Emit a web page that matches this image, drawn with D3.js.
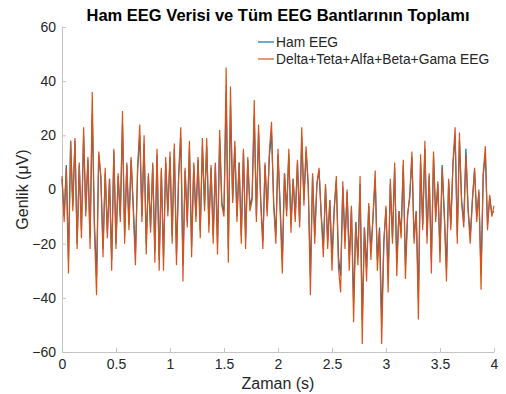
<!DOCTYPE html>
<head>
<style type="text/css">
    body {
      font-family: "Liberation Sans", Arial, sans-serif;
      margin: 0;
      background: #fff;
    }
    .tick text { fill: #262626; }
</style>
</head>
<script src="https://d3js.org/d3.v7.min.js"></script>
<body>
    <svg width="506" height="394"></svg>
    <script>
        // Ham EEG (raw), one sample per 0.02 s
        var hamEEG = [
            4, -10, 9, -26, 18, -6, 18, -20, 9, -15,
            20, -8, 11, -18, 28, -12, -32, 13, 4, -22,
            6, -16, 4, -26, 14, -20, 5, -10, 24, -17,
            9, -13, 11, -6, -24, 7, 20, -10, 17, -20,
            5, -14, 9, -23, 13, -26, 7, -25, 10, -8,
            12, -17, 15, -24, 5, 19, -28, 7, -12, 15,
            -21, 9, -10, 11, -15, 16, -6, 16, -13, 8,
            -17, 9, -20, 19, -5, -8, 36, -22, 31, -4,
            16, -10, 10, -17, 14, -18, 11, -6, -3, 27,
            -10, 21, -4, -19, 9, -8, 12, 21, -5, -17,
            13, -6, -26, 6, -8, 13, -13, 4, -10, 10,
            -12, 19, -4, 14, 1, -32, 5, -17, 2, 7,
            -9, -21, 1, -19, -4, -25, -7, 3, -25, -32,
            1, -19, -1, -26, -7, -42, -12, -25, 2, -48,
            -14, -29, -6, -23, -10, 4, -26, -14, -48, -19,
            -7, -32, 2, -18, 8, -27, -8, -16, 9, -28,
            -9, -3, 12, -18, -8, -40, 10, -13, 15, -17,
            5, -26, 12, -10, 2, -23, 9, -9, -29, 3,
            -13, 9, 20, -17, 18, -4, -12, 15, -7, -17,
            -4, 7, -10, -1, -31, 5, 13, -13, -3, -9,
            -8
        ];

        // Delta+Teta+Alfa+Beta+Gama toplami
        var bantToplam = [
            5, -12, 8, -31, 18, -8, 19, -22, 10, -18,
            23, -10, 12, -22, 36, -15, -39, 14, 5, -25,
            8, -18, 4, -30, 15, -22, 6, -12, 29, -20,
            10, -15, 12, -8, -28, 8, 24, -12, 20, -24,
            6, -16, 10, -27, 15, -30, 8, -30, 12, -10,
            14, -20, 17, -28, 5, 23, -34, 8, -14, 18,
            -25, 10, -12, 12, -18, 19, -8, 19, -16, 9,
            -20, 10, -24, 22, -6, -10, 45, -27, 38, -5,
            18, -12, 10, -20, 15, -22, 12, -8, -4, 33,
            -12, 24, -5, -22, 10, -10, 14, 25, -6, -20,
            15, -8, -31, 6, -10, 15, -16, 4, -12, 11,
            -14, 23, -6, 16, 2, -39, 6, -20, 2, 8,
            -10, -25, 2, -22, -4, -30, -8, 5, -29, -38,
            3, -22, 0, -30, -6, -49, -12, -28, 5, -57,
            -14, -34, -5, -26, -10, 7, -30, -15, -57, -20,
            -6, -38, 4, -20, 10, -32, -8, -18, 11, -33,
            -10, -2, 14, -20, -8, -48, 13, -15, 18, -20,
            6, -31, 14, -12, 3, -27, 8, -10, -34, 4,
            -15, 10, 23, -20, 21, -5, -14, 13, -8, -20,
            -4, 8, -12, 0, -37, 6, 16, -15, -2, -10,
            -6
        ];

        var xTicks = [0, 0.5, 1, 1.5, 2, 2.5, 3, 3.5, 4];
        var yTicks = [-60, -40, -20, 0, 20, 40, 60];
        var seriesNames = ["Ham EEG", "Delta+Teta+Alfa+Beta+Gama EEG"];
        var seriesColors = ["#0072BD", "#D95319"];
        var duration = 4;

        var margin = {top: 27, right: 12, bottom: 42, left: 62},
            width = 506,
            height = 394;

        var svg = d3.select("svg");

        var x = d3.scaleLinear()
            .domain([0, duration])
            .range([margin.left, width - margin.right]);

        var y = d3.scaleLinear()
            .domain([-60, 60])
            .range([height - margin.bottom, margin.top]);

        var dt = duration / (hamEEG.length - 1);

        var line = d3.line()
            .x(function(d, i) { return x(i * dt); })
            .y(function(d) { return y(d); });

        // x axis
        var xAxis = svg.append("g")
            .attr("transform", "translate(0," + y(-60) + ")")
            .call(d3.axisBottom(x).tickValues(xTicks).tickSize(0).tickPadding(7)
                .tickFormat(function(d) { return d; }));
        xAxis.select(".domain").attr("stroke", "#c4c4c4");
        xAxis.selectAll(".tick text").style("font-size", "14px");
        xAxis.selectAll(".tick").append("line")
            .attr("y2", -4).attr("stroke", "#c4c4c4");

        // y axis
        var yAxis = svg.append("g")
            .attr("transform", "translate(" + x(0) + ",0)")
            .call(d3.axisLeft(y).tickValues(yTicks).tickSize(0).tickPadding(6));
        yAxis.select(".domain").attr("stroke", "#c4c4c4");
        yAxis.selectAll(".tick text").style("font-size", "14px");
        yAxis.selectAll(".tick").append("line")
            .attr("x2", 4).attr("stroke", "#c4c4c4");

        var g = svg.append("g");

        g.append("path")
            .datum(hamEEG)
            .attr("d", line)
            .attr("fill", "none")
            .attr("stroke", seriesColors[0])
            .attr("stroke-width", 1.2);

        g.append("path")
            .datum(bantToplam)
            .attr("d", line)
            .attr("fill", "none")
            .attr("stroke", seriesColors[1])
            .attr("stroke-width", 1.2);

        // title and labels
        svg.append("text")
            .attr("x", 278).attr("y", 21)
            .attr("text-anchor", "middle")
            .style("font-size", "16.5px")
            .style("font-weight", "bold")
            .text("Ham EEG Verisi ve Tüm EEG Bantlarının Toplamı");

        svg.append("text")
            .attr("x", 278).attr("y", 389)
            .attr("text-anchor", "middle")
            .style("font-size", "16px")
            .attr("fill", "#262626")
            .text("Zaman (s)");

        svg.append("text")
            .attr("transform", "translate(28," + y(0) + ")rotate(-90)")
            .attr("text-anchor", "middle")
            .style("font-size", "16px")
            .attr("fill", "#262626")
            .text("Genlik (μV)");

        // legend
        var legend = svg.append("g")
            .selectAll("g")
            .data(seriesNames)
            .enter().append("g")
            .attr("transform", function(d, i) { return "translate(258," + (42 + i * 17) + ")"; });

        legend.append("line")
            .attr("x1", 0).attr("x2", 16)
            .attr("stroke", function(d, i) { return seriesColors[i]; })
            .attr("stroke-width", 1.2);

        legend.append("text")
            .attr("x", 18).attr("y", 5)
            .style("font-size", "13.8px")
            .attr("fill", "#262626")
            .text(function(d) { return d; });
    </script>
</body>
